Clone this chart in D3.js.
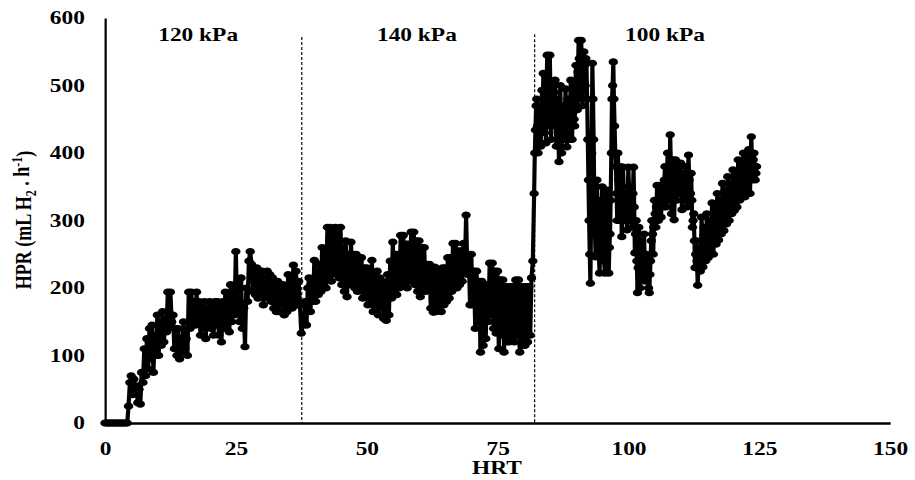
<!DOCTYPE html>
<html><head><meta charset="utf-8">
<script src="https://cdn.jsdelivr.net/npm/d3@7"></script>
<style>body{margin:0;background:#fff} svg{display:block}</style>
</head><body>
<svg id="c" width="915" height="480"></svg>
<script>
const xTicks = [0, 25, 50, 75, 100, 125, 150];
const yTicks = [0, 100, 200, 300, 400, 500, 600];
const phaseLabels = ["120 kPa", "140 kPa", "100 kPa"];
const phaseLabelHRT = [17.8, 59.6, 107.0];
const phaseBoundaries = [37.6, 82.1];
// reading offsets inside each HRT unit
const subSteps = [0, 0.25, 0.5, 0.75];
const subSteps100 = [0, 0.125, 0.25, 0.375, 0.5, 0.625, 0.75, 0.875];
// rows: [HRT, readings at the offsets above]
const phase120 = [
  [0,0,0,0,0],[1,0,0,0,0],[2,0,0,0,0],[3,0,0,0,0],[4,0,0,25,60],
  [5,70,42,65,45],[6,55,30,50,28],[7,75,60,110,70],[8,125,80,140,95],[9,145,75,130,100],
  [10,160,100,150,115],[11,165,120,150,135],[12,194,140,194,150],[13,160,110,140,100],[14,140,95,125,105],
  [15,150,110,125,100],[16,194,140,194,150],[17,180,145,194,150],[18,180,130,175,140],[19,180,125,170,145],
  [20,180,140,175,130],[21,180,145,180,130],[22,175,120,180,140],[23,194,140,185,135],[24,205,150,194,160],
  [25,254,165,210,150],[26,215,140,170,113],[27,200,180,240,254],[28,235,195,225,190],[29,230,185,220,195],
  [30,225,175,215,190],[31,225,185,220,180],[32,215,170,210,165],[33,210,165,205,175],[34,205,160,200,165],
  [35,220,175,215,170],[36,234,180,225,175],[37,210,175,133]
];
const phase140 = [
  [38,150,180,145,200],[39,215,165,210,180],
  [40,241,180,225,190],[41,235,195,260,200],[42,255,200,290,215],[43,290,210,285,225],[44,290,220,280,215],
  [45,290,205,260,195],[46,270,187,250,205],[47,268,210,250,200],[48,250,195,240,200],[49,245,185,230,190],
  [50,230,175,225,180],[51,241,165,220,175],[52,225,160,215,170],[53,210,155,205,152],[54,220,160,240,185],
  [55,268,195,250,190],[56,250,200,278,210],[57,278,205,265,200],[58,265,210,283,215],[59,283,205,270,195],
  [60,270,187,260,200],[61,260,195,235,200],[62,235,170,231,164],[63,231,165,225,170],[64,225,165,230,175],
  [65,230,180,245,185],[66,245,195,266,200],[67,266,200,255,205],[68,255,210,266,225],[69,308,220,250,175],
  [70,250,175,225,140],[71,225,150,210,105],[72,210,115,205,125],[73,205,150,237,160],[74,237,140,225,133],
  [75,225,110,212,130],[76,212,105,202,120],[77,202,120,202,125],[78,202,120,212,130],[79,212,105,202,115],
  [80,202,115,202,120],[81,202,130,215,240]
];
const phase100 = [
  [82,340,400,434,470,480,440,400,460],
  [83,470,430,410,460,493,450,518,480],
  [84,430,470,415,500,545,500,440,480],
  [85,545,480,420,470,500,460,440,490],
  [86,508,460,410,440,480,430,387,420],
  [87,500,450,400,440,470,430,420,460],
  [88,495,450,409,450,480,440,420,470],
  [89,508,470,420,460,493,450,440,500],
  [90,530,490,464,520,567,540,480,520],
  [91,567,520,470,510,550,530,500,540],
  [92,533,480,420,360,300,250,207,300],
  [93,400,533,480,420,330,280,246,300],
  [94,360,320,280,250,222,260,330,300],
  [95,350,300,260,240,222,250,300,340],
  [96,345,300,222,260,280,330,400,480],
  [97,500,535,480,440,400,380,340,300],
  [98,400,360,300,340,380,330,276,320],
  [99,379,340,300,320,340,310,286,330],
  [100,379,350,300,330,350,320,290,340],
  [101,379,320,252,280,300,240,193,230],
  [102,290,250,200,240,270,240,215,250],
  [103,280,240,210,230,250,230,220,200],
  [104,193,220,240,270,300,280,250,290],
  [105,330,310,290,320,352,330,300,320],
  [106,352,330,305,330,350,340,320,360],
  [107,380,350,320,360,400,370,330,360],
  [108,427,380,310,350,390,340,301,340],
  [109,390,360,330,360,380,360,340,370],
  [110,385,350,316,340,370,350,330,360],
  [111,380,350,320,360,397,360,330,340],
  [112,370,330,290,300,310,270,230,250],
  [113,270,240,204,230,250,240,225,260],
  [114,305,270,231,260,290,260,240,270],
  [115,310,280,245,270,300,270,250,280],
  [116,326,290,250,280,320,290,265,300],
  [117,340,300,271,300,330,300,280,310],
  [118,355,320,285,320,345,320,295,330],
  [119,365,330,300,330,355,330,310,340],
  [120,375,345,315,340,370,340,320,350],
  [121,390,360,330,360,385,360,335,370],
  [122,400,370,335,370,395,370,345,380],
  [123,405,380,340,390,424,390,360,390],
  [124,400,380,360,370,380]
];

const SX = 1.3; // the original figure is stretched horizontally
const FONT = "'Liberation Serif','Times New Roman',serif";
const svg = d3.select("#c");
const g = svg.append("g").attr("transform", `scale(${SX},1)`);

const x = d3.scaleLinear().domain([0, 150]).range([105 / SX, 890 / SX]);
const y = d3.scaleLinear().domain([0, 600]).range([423, 18]);

function expand(rows, steps) {
  const out = [];
  rows.forEach(r => {
    for (let j = 1; j < r.length; j++) out.push({ hrt: r[0] + steps[j - 1], hpr: r[j] });
  });
  return out;
}
const data = [...expand(phase120, subSteps), ...expand(phase140, subSteps), ...expand(phase100, subSteps100)];

// X axis
const xa = g.append("g").attr("transform", "translate(0,423)")
  .call(d3.axisBottom(x).tickValues(xTicks).tickSize(0).tickPadding(19).tickFormat(d3.format("d")));
xa.select(".domain").attr("stroke", "#000").attr("stroke-width", 2.5);
xa.selectAll("text").attr("font-family", FONT).attr("font-weight", "bold").attr("font-size", 18).attr("fill", "#000");

// Y axis
const ya = g.append("g").attr("transform", `translate(${x(0)},0)`)
  .call(d3.axisLeft(y).tickValues(yTicks).tickSize(0).tickPadding(15.5).tickFormat(d3.format("d")));
ya.select(".domain").attr("stroke", "#000").attr("stroke-width", 1.7);
ya.selectAll("text").attr("font-family", FONT).attr("font-weight", "bold").attr("font-size", 18).attr("fill", "#000");

// phase boundaries
const tops = [572, 576];
g.selectAll(".bound").data(phaseBoundaries).enter().append("line")
  .attr("x1", d => x(d)).attr("x2", d => x(d))
  .attr("y1", (d, i) => y(tops[i])).attr("y2", y(0))
  .attr("stroke", "#000").attr("stroke-width", 0.9).attr("stroke-dasharray", "3,2");

// phase labels
g.selectAll(".plab").data(phaseLabels).enter().append("text")
  .attr("x", (d, i) => x(phaseLabelHRT[i])).attr("y", 41)
  .attr("text-anchor", "middle").attr("font-family", FONT).attr("font-weight", "bold")
  .attr("font-size", 18).text(d => d);

// series
const line = d3.line().x(d => x(d.hrt)).y(d => y(d.hpr));
g.append("path").datum(data).attr("d", line)
  .attr("fill", "none").attr("stroke", "#000").attr("stroke-width", 3.2).attr("stroke-linejoin", "round");
g.selectAll(".pt").data(data).enter().append("circle")
  .attr("cx", d => x(d.hrt)).attr("cy", d => y(d.hpr)).attr("r", 3.6).attr("fill", "#000");

// axis titles
g.append("text").attr("x", 497 / SX).attr("y", 474).attr("text-anchor", "middle")
  .attr("font-family", FONT).attr("font-weight", "bold").attr("font-size", 18).text("HRT");

const yl = g.append("text").attr("transform", `translate(${31 / SX},220) rotate(-90)`)
  .attr("text-anchor", "middle").attr("font-family", FONT).attr("font-weight", "bold").attr("font-size", 18);
yl.append("tspan").text("HPR (mL H");
yl.append("tspan").attr("font-size", 12).attr("dy", "0.3em").text("2");
yl.append("tspan").attr("dy", "-0.3em").text(" . h");
yl.append("tspan").attr("font-size", 12).attr("dy", "-0.45em").text("-1");
yl.append("tspan").attr("dy", "0.45em").text(")");
</script>
</body></html>
